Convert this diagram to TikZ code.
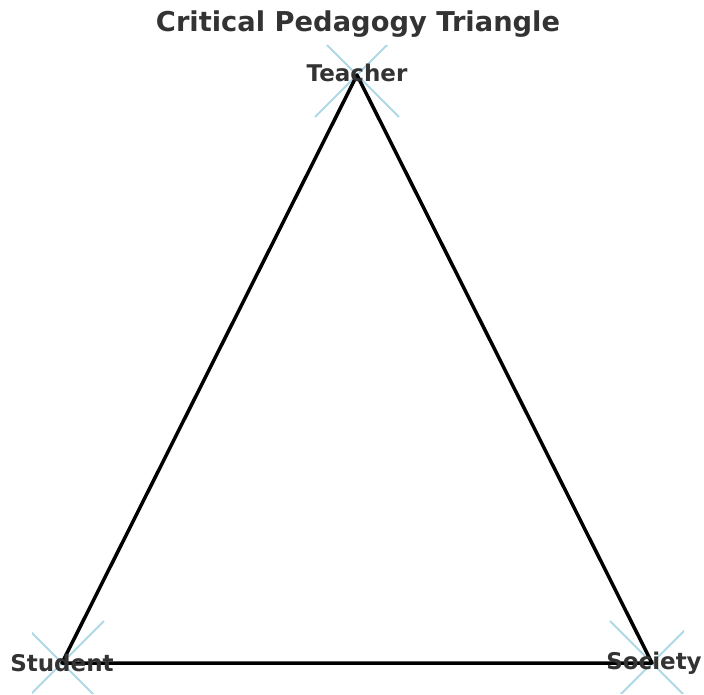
\documentclass[tikz,border=0pt]{standalone}
\usepackage{fontspec}
\setmainfont{DejaVu Sans}
\usepackage{tikz}
\definecolor{markblue}{HTML}{ADD8E6}
\definecolor{labelgray}{HTML}{333333}

\begin{document}
\begin{tikzpicture}[x=1pt, y=-1pt,
    vlabel/.style={text=labelgray, font=\fontsize{23}{27}\selectfont\bfseries, inner sep=0pt},
    cross/.style={markblue, line width=2pt},
    edge/.style={black, line width=3.5pt, line join=round}]
    \useasboundingbox (0,0) rectangle (704,695);

    % Vertices
    \coordinate (teacher) at (357,75);
    \coordinate (student) at (62,663);
    \coordinate (society) at (652,663);

    % Markers (clipped to the plot area)
    \begin{scope}
        \clip (32,46) rectangle (684,693);
        \foreach \v in {teacher,student,society}
            \draw[cross, shift={(\v)}] (-42,-42) -- (42,42) (-42,42) -- (42,-42);
    \end{scope}

    % Triangle
    \draw[edge] (teacher) -- (society) -- (student) -- cycle;

    % Labels
    \node[vlabel] (teacherlabel) at (357,73) {Teacher};
    \node[vlabel] (studentlabel) at (62,663) {Student};
    \node[vlabel] (societylabel) at (654,663) {Society};

    % Title
    \node[text=labelgray, font=\fontsize{27.3}{32}\selectfont\bfseries, inner sep=0pt] (title) at (358,24) {Critical Pedagogy Triangle};
\end{tikzpicture}
\end{document}
